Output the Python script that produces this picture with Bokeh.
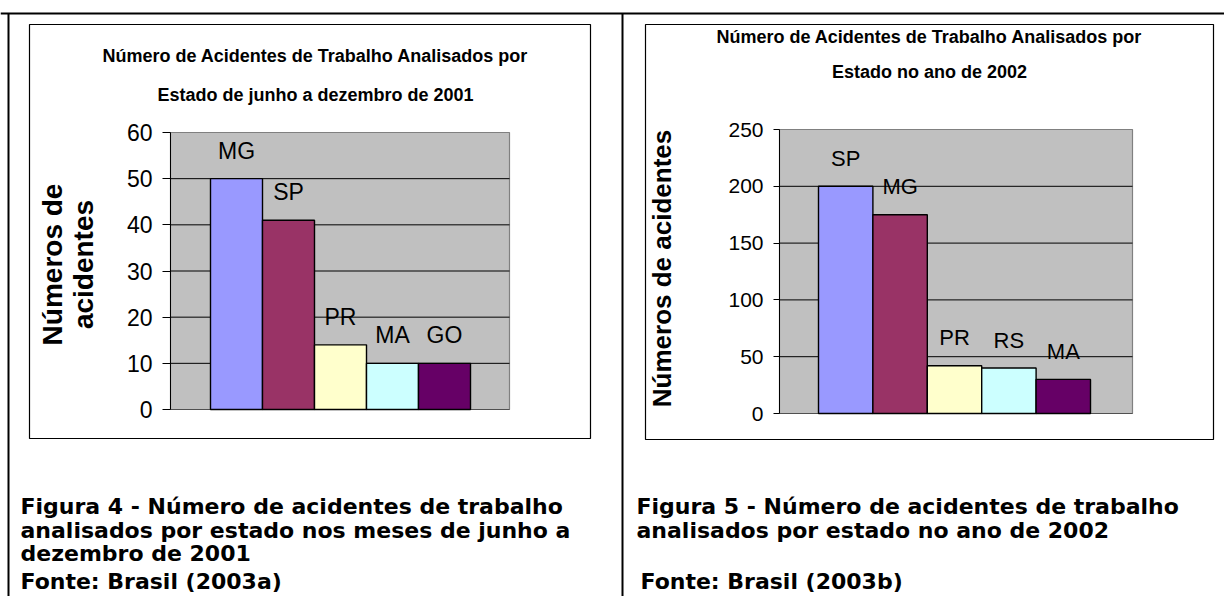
from math import pi
from bokeh.plotting import figure
from bokeh.models import Range1d, LinearAxis, FixedTicker
from bokeh.core.properties import value
from bokeh.embed import file_html
from bokeh.resources import INLINE

# ---------------- data ----------------
left_states = ["MG", "SP", "PR", "MA", "GO"]
left_values = [50, 41, 14, 10, 10]
left_ticks = [0, 10, 20, 30, 40, 50, 60]

right_states = ["SP", "MG", "PR", "RS", "MA"]
right_values = [200, 175, 42, 40, 30]
right_ticks = [0, 50, 100, 150, 200, 250]

bar_colors = ["#9999FF", "#993366", "#FFFFCC", "#CCFFFF", "#660066"]

left_title = ["Número de Acidentes de Trabalho Analisados por",
              "Estado de junho a dezembro de 2001"]
right_title = ["Número de Acidentes de Trabalho Analisados por",
               "Estado no ano de 2002"]
left_ylabel = ["Números de", "acidentes"]
right_ylabel = ["Números de acidentes"]

left_caption = ["Figura 4 - Número de acidentes de trabalho",
                "analisados por estado nos meses de junho a",
                "dezembro de 2001"]
left_source = "Fonte: Brasil (2003a)"
right_caption = ["Figura 5 - Número de acidentes de trabalho",
                 "analisados por estado no ano de 2002"]
right_source = "Fonte: Brasil (2003b)"

# ---------------- layout ----------------
SANS = "Liberation Sans, Arial, sans-serif"
WIDE = "DejaVu Sans, Verdana, sans-serif"
W, H = 1224, 596

p = figure(width=W, height=H, x_range=Range1d(0, W), y_range=Range1d(H, 0),
           x_axis_type=None, y_axis_type=None, toolbar_location=None,
           output_backend="svg", min_border=0, outline_line_color=None,
           background_fill_color="white", border_fill_color="white")

# table borders
p.segment(x0=[0, 8, 622], x1=[W, 8, 622], y0=[13, 13, 13], y1=[13, H, H],
          line_color="black", line_width=2)

extra_x, extra_y = {}, {}


def chart(name, states, vals, ticks, box, plot, bar_left, bar_w, tick_out, tick_size,
          lab_size, title, title_cx, title_base, title_size, ylab, ylab_x, ylab_cy,
          ylab_size):
    bx0, bx1, by0, by1 = box
    px0, px1, pt, pb = plot
    ymax = ticks[-1]
    ppu = (pb - pt) / ymax
    c0 = bar_left + bar_w / 2
    extra_y[name + "y"] = Range1d(-(H - pb) / ppu, pb / ppu)
    extra_x[name + "x"] = Range1d(-c0 / bar_w, (W - c0) / bar_w)
    p.extra_y_ranges = dict(extra_y)
    p.extra_x_ranges = dict(extra_x)
    yr, xr = name + "y", name + "x"

    # chart box
    p.quad(left=[bx0], right=[bx1], top=[by0], bottom=[by1], fill_color=None,
           line_color="black", line_width=1.2)
    # plot area
    p.quad(left=[px0], right=[px1], bottom=[0], top=[ymax], y_range_name=yr,
           fill_color="#C0C0C0", line_color="#808080", line_width=1.2)
    inner = ticks[1:-1]
    p.segment(x0=[px0] * len(inner), x1=[px1] * len(inner), y0=inner, y1=inner,
              y_range_name=yr, line_color="black", line_width=1)
    p.segment(x0=[px0], x1=[px1], y0=[0], y1=[0], y_range_name=yr,
              line_color="#505050", line_width=1)
    idx = list(range(len(vals)))
    p.vbar(x=idx, top=vals, bottom=0, width=1, fill_color=bar_colors,
           line_color="black", line_width=1.4, x_range_name=xr, y_range_name=yr)
    p.text(x=idx, y=vals, text=states, x_range_name=xr, y_range_name=yr,
           y_offset=-28, text_align="center", text_baseline="alphabetic",
           text_font=value(SANS), text_font_size=lab_size, text_color="black")

    ax = LinearAxis(y_range_name=yr, fixed_location=px0, bounds=(0, ymax),
                    ticker=FixedTicker(ticks=ticks, minor_ticks=[]),
                    major_tick_out=tick_out, major_tick_in=0,
                    minor_tick_out=0, minor_tick_in=0,
                    axis_line_color="black", major_tick_line_color="black",
                    major_label_standoff=10, major_label_text_font=SANS,
                    major_label_text_font_size=tick_size,
                    major_label_text_color="black")
    p.add_layout(ax, "left")

    p.text(x=[title_cx] * len(title), y=title_base, text=title,
           text_align="center", text_baseline="alphabetic",
           text_font=value(SANS), text_font_style="bold",
           text_font_size=title_size, text_color="black")
    p.text(x=ylab_x, y=[ylab_cy] * len(ylab), text=ylab, angle=pi / 2,
           text_align="center", text_baseline="alphabetic",
           text_font=value(SANS), text_font_style="bold",
           text_font_size=ylab_size, text_color="black")


chart("l", left_states, left_values, left_ticks,
      box=(29, 590, 24, 438), plot=(170, 509, 132, 409), bar_left=210, bar_w=52,
      tick_out=8, tick_size="23px", lab_size="23px",
      title=left_title, title_cx=315, title_base=[55, 94], title_size="18px",
      ylab=left_ylabel, ylab_x=[52, 83], ylab_cy=264, ylab_size="28px")

chart("r", right_states, right_values, right_ticks,
      box=(645, 1213, 24, 439), plot=(779, 1132, 129, 413), bar_left=818, bar_w=54.4,
      tick_out=6, tick_size="21px", lab_size="22px",
      title=right_title, title_cx=929, title_base=[36, 71], title_size="18px",
      ylab=right_ylabel, ylab_x=[661], ylab_cy=268, ylab_size="26px")

# captions
cap_kw = dict(text_align="left", text_baseline="alphabetic", text_font=value(WIDE),
              text_font_style="bold", text_font_size="22px", text_color="black")
p.text(x=[20] * 4, y=[506, 530, 553, 581], text=left_caption + [left_source], **cap_kw)
p.text(x=[636, 636, 640], y=[506, 530, 581], text=right_caption + [right_source], **cap_kw)

open("out.html", "w").write(file_html(p, INLINE))
